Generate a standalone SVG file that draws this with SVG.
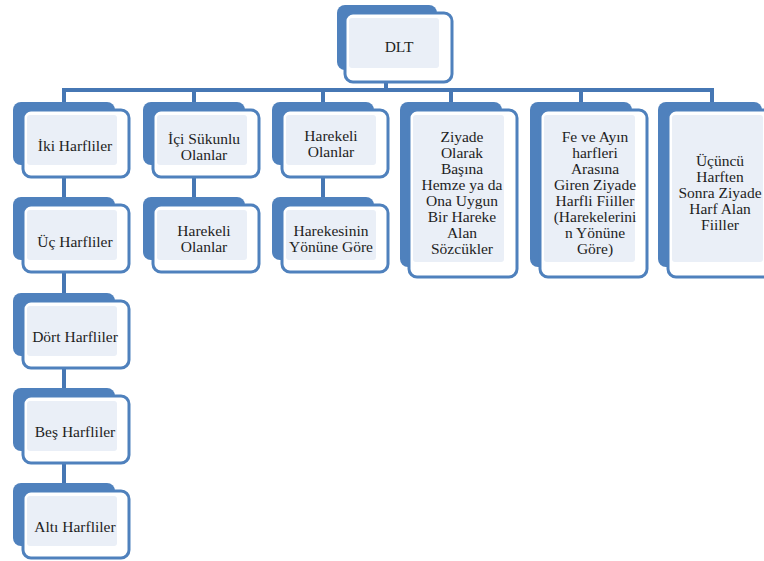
<svg xmlns="http://www.w3.org/2000/svg" width="764" height="561" viewBox="0 0 764 561">
<style>
.bk{fill:#4F81BD}
.fr{fill:#FFFFFF;stroke:#4F81BD;stroke-width:3}
.in{fill:#EAEFF7}
.cn{stroke:#4677B4;stroke-width:4;fill:none}
text{font-family:"Liberation Serif","Times New Roman","DejaVu Serif",serif;font-size:15.5px;fill:#1E1E1E;text-anchor:middle}
</style>
<rect width="764" height="561" fill="#FFFFFF"/>
<g id="connectors">
<path class="cn" d="M386 82V90M62 90H714M64 90V102M194 90V102M323 90V102M451 90V102M581 90V102M712 90V102"/>
<path class="cn" d="M64 177V197M64 272V293M64 368V388M64 463V483M194 177V197M323 177V197"/>
</g>
<g id="dlt">
<rect class="bk" x="337" y="5" width="100" height="65" rx="8"/>
<rect class="fr" x="345" y="13" width="107" height="69" rx="8"/>
<rect class="in" x="349" y="18" width="90" height="50" rx="3"/>
<text x="399" y="52">DLT</text>
</g>
<g id="iki">
<rect class="bk" x="13" y="102" width="102" height="63" rx="8"/>
<rect class="fr" x="23" y="110" width="106" height="67" rx="8"/>
<rect class="in" x="27" y="115" width="90" height="50" rx="3"/>
<text x="75" y="151">İki Harfliler</text>
</g>
<g id="uc">
<rect class="bk" x="13" y="197" width="102" height="63" rx="8"/>
<rect class="fr" x="23" y="205" width="106" height="67" rx="8"/>
<rect class="in" x="27" y="210" width="90" height="50" rx="3"/>
<text x="75" y="247">Üç Harfliler</text>
</g>
<g id="dort">
<rect class="bk" x="13" y="293" width="102" height="63" rx="8"/>
<rect class="fr" x="23" y="301" width="106" height="67" rx="8"/>
<rect class="in" x="27" y="306" width="90" height="50" rx="3"/>
<text x="75" y="342">Dört Harfliler</text>
</g>
<g id="bes">
<rect class="bk" x="13" y="388" width="102" height="63" rx="8"/>
<rect class="fr" x="23" y="396" width="106" height="67" rx="8"/>
<rect class="in" x="27" y="401" width="90" height="50" rx="3"/>
<text x="75" y="437">Beş Harfliler</text>
</g>
<g id="alti">
<rect class="bk" x="13" y="483" width="102" height="63" rx="8"/>
<rect class="fr" x="23" y="491" width="106" height="67" rx="8"/>
<rect class="in" x="27" y="496" width="90" height="50" rx="3"/>
<text x="75" y="532">Altı Harfliler</text>
</g>
<g id="ici">
<rect class="bk" x="143" y="102" width="102" height="63" rx="8"/>
<rect class="fr" x="153" y="110" width="106" height="67" rx="8"/>
<rect class="in" x="157" y="115" width="90" height="50" rx="3"/>
<text x="204" y="144">İçi Sükunlu</text>
<text x="204" y="160">Olanlar</text>
</g>
<g id="harekeli1">
<rect class="bk" x="143" y="197" width="102" height="63" rx="8"/>
<rect class="fr" x="153" y="205" width="106" height="67" rx="8"/>
<rect class="in" x="157" y="210" width="90" height="50" rx="3"/>
<text x="204" y="236">Harekeli</text>
<text x="204" y="252">Olanlar</text>
</g>
<g id="harekeli2">
<rect class="bk" x="272" y="102" width="102" height="63" rx="8"/>
<rect class="fr" x="282" y="110" width="106" height="67" rx="8"/>
<rect class="in" x="286" y="115" width="90" height="50" rx="3"/>
<text x="331" y="141">Harekeli</text>
<text x="331" y="157">Olanlar</text>
</g>
<g id="harekesinin">
<rect class="bk" x="272" y="197" width="102" height="63" rx="8"/>
<rect class="fr" x="282" y="205" width="106" height="67" rx="8"/>
<rect class="in" x="286" y="210" width="90" height="50" rx="3"/>
<text x="331" y="236">Harekesinin</text>
<text x="331" y="252">Yönüne Göre</text>
</g>
<g id="ziyade">
<rect class="bk" x="400" y="102" width="102" height="165" rx="8"/>
<rect class="fr" x="409" y="110" width="108" height="167" rx="8"/>
<rect class="in" x="413" y="115" width="91" height="147" rx="3"/>
<text x="462" y="142">Ziyade</text>
<text x="462" y="158">Olarak</text>
<text x="462" y="174">Başına</text>
<text x="462" y="190">Hemze ya da</text>
<text x="462" y="206">Ona Uygun</text>
<text x="462" y="222">Bir Hareke</text>
<text x="462" y="238">Alan</text>
<text x="462" y="254">Sözcükler</text>
</g>
<g id="feveayin">
<rect class="bk" x="530" y="102" width="102" height="165" rx="8"/>
<rect class="fr" x="540" y="110" width="107" height="167" rx="8"/>
<rect class="in" x="544" y="115" width="91" height="147" rx="3"/>
<text x="595" y="142">Fe ve Ayın</text>
<text x="595" y="158">harfleri</text>
<text x="595" y="174">Arasına</text>
<text x="595" y="190">Giren Ziyade</text>
<text x="595" y="206">Harfli Fiiller</text>
<text x="595" y="222">(Harekelerini</text>
<text x="595" y="238">n Yönüne</text>
<text x="595" y="254">Göre)</text>
</g>
<g id="ucuncu">
<rect class="bk" x="658" y="102" width="104" height="165" rx="8"/>
<rect class="fr" x="668" y="110" width="108" height="167" rx="8"/>
<rect class="in" x="672" y="115" width="91" height="147" rx="3"/>
<text x="720" y="166">Üçüncü</text>
<text x="720" y="182">Harften</text>
<text x="720" y="198">Sonra Ziyade</text>
<text x="720" y="214">Harf Alan</text>
<text x="720" y="230">Fiiller</text>
</g>
</svg>
